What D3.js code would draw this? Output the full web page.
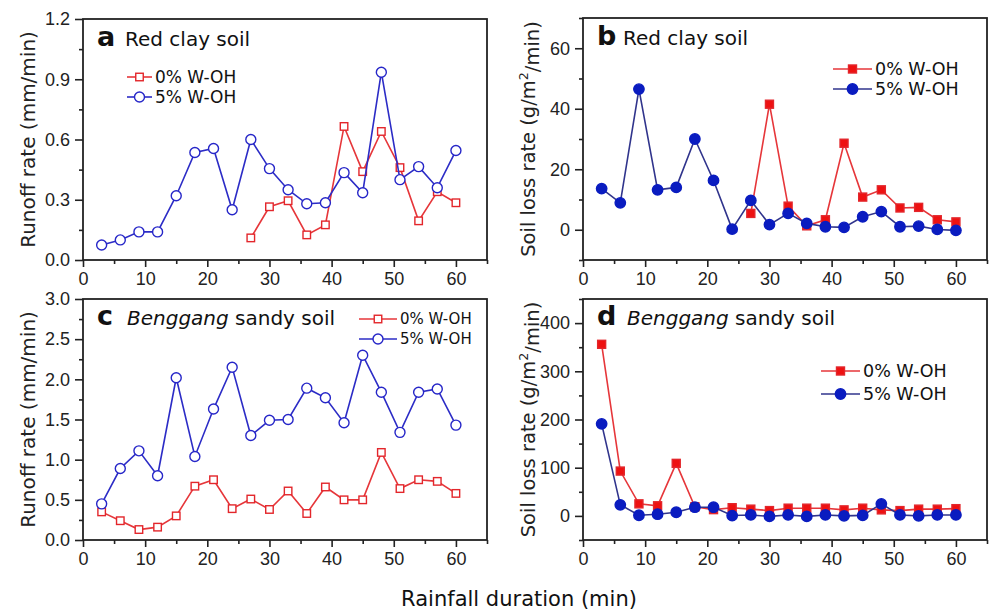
<!DOCTYPE html>
<html>
<head>
<meta charset="utf-8">
<script src="https://cdn.jsdelivr.net/npm/d3@7"></script>
<style>
    body { margin: 0; background: #fff; }
    svg { display: block; font-family: "DejaVu Sans", Arial, sans-serif; }
</style>
</head>
<body>
<svg id="chart" width="989" height="613"></svg>
<script>
// rainfall duration (min)
const minutes = [3, 6, 9, 12, 15, 18, 21, 24, 27, 30, 33, 36, 39, 42, 45, 48, 51, 54, 57, 60];

// a - red clay soil, runoff rate (mm/min)
const redClayRunoff0 = [null, null, null, null, null, null, null, null, 0.11, 0.265, 0.295, 0.125, 0.175, 0.665, 0.44, 0.64, 0.46, 0.195, 0.34, 0.285];
const redClayRunoff5 = [0.075, 0.10, 0.14, 0.14, 0.32, 0.535, 0.555, 0.25, 0.60, 0.455, 0.35, 0.28, 0.285, 0.435, 0.335, 0.935, 0.40, 0.465, 0.36, 0.545];

// b - red clay soil, soil loss rate (g/m2/min)
const redClayLoss0 = [null, null, null, null, null, null, null, null, 5.4, 41.5, 7.8, 1.3, 3.3, 28.6, 10.8, 13.2, 7.2, 7.4, 3.3, 2.6];
const redClayLoss5 = [13.6, 8.9, 46.5, 13.2, 14, 30, 16.3, 0.2, 9.7, 1.7, 5.4, 2.1, 1.0, 0.8, 4.3, 6.0, 1.0, 1.2, 0.1, -0.2];

// c - Benggang sandy soil, runoff rate (mm/min)
const benggangRunoff0 = [0.35, 0.24, 0.13, 0.16, 0.30, 0.67, 0.75, 0.39, 0.51, 0.38, 0.61, 0.33, 0.66, 0.50, 0.50, 1.09, 0.64, 0.75, 0.73, 0.58];
const benggangRunoff5 = [0.45, 0.89, 1.11, 0.80, 2.02, 1.04, 1.63, 2.15, 1.30, 1.49, 1.50, 1.89, 1.77, 1.46, 2.30, 1.84, 1.34, 1.84, 1.88, 1.43];

// d - Benggang sandy soil, soil loss rate (g/m2/min)
const benggangLoss0 = [356, 93, 25, 21, 109, 19, 13, 17, 14, 11, 16, 16, 16, 12.5, 16, 12.5, 11, 14, 14, 15];
const benggangLoss5 = [191, 23, 1.4, 3.5, 7.6, 18, 18, 0.7, 2, -1, 2, -1, 2, 0, 1, 25, 2, 0, 2, 2];

const seriesNames = ['0% W-OH', '5% W-OH'];
const xTicks = [0, 10, 20, 30, 40, 50, 60];

const svg = d3.select('#chart');
const frameColor = '#222';

function drawPanel(cfg) {
    const w = cfg.right - cfg.left;
    const h = cfg.bottom - cfg.top;
    const g = svg.append('g').attr('transform', `translate(${cfg.left},${cfg.top})`);

    const x = d3.scaleLinear().domain([0, 65]).range([0, w]);
    const y = d3.scaleLinear().domain(cfg.yDomain).range([h, 0]);

    // axes with major + minor ticks
    const xAxis = d3.axisBottom(x).tickValues(xTicks).tickSize(7).tickPadding(5).tickFormat(d3.format('d'));
    const xMinor = d3.axisBottom(x).tickValues(xTicks.map(d => d + 5)).tickSize(4).tickFormat('');
    const yAxis = d3.axisLeft(y).tickValues(cfg.yTicks).tickSize(8).tickPadding(5).tickFormat(cfg.yFormat);
    const yMinor = d3.axisLeft(y).tickValues(cfg.yMinor).tickSize(4).tickFormat('');

    [[xMinor, true], [xAxis, true], [yMinor, false], [yAxis, false]].forEach(([ax, isX]) => {
        const a = g.append('g')
            .attr('transform', isX ? `translate(0,${h})` : null)
            .call(ax);
        a.select('.domain').remove();
        a.selectAll('line').attr('stroke', frameColor).attr('stroke-width', 1.6);
        a.selectAll('text').attr('fill', '#222').style('font-size', '18px');
    });

    g.append('rect')
        .attr('width', w).attr('height', h)
        .attr('fill', 'none')
        .attr('stroke', frameColor)
        .attr('stroke-width', 1.8);

    // y axis title
    const yt = svg.append('text')
        .attr('transform', `translate(${cfg.left - 48},${cfg.top + h / 2}) rotate(-90)`)
        .attr('text-anchor', 'middle')
        .attr('fill', '#222')
        .style('font-size', cfg.yTitleSize + 'px');
    cfg.yTitle.forEach(p => {
        const t = yt.append('tspan').text(p.text);
        if (p.sup) t.style('font-size', '0.65em').attr('dy', '-0.55em');
        if (p.after) t.attr('dy', '0.55em');
    });

    // panel letter + title
    g.append('text')
        .attr('x', 14).attr('y', cfg.titleY)
        .attr('fill', '#111')
        .style('font-size', '27px').style('font-weight', 'bold')
        .text(cfg.letter);
    const tt = g.append('text')
        .attr('x', cfg.titleX).attr('y', cfg.titleY)
        .attr('fill', '#111')
        .style('font-size', '20px');
    cfg.title.forEach(p => {
        tt.append('tspan').text(p.text).style('font-style', p.italic ? 'italic' : null);
    });

    // series: 0% first, 5% on top
    const series = [
        {values: cfg.values0, color: '#e3262b', line: '#e6363a', fill: cfg.filled ? '#ee1111' : '#fff', shape: 'square'},
        {values: cfg.values5, color: cfg.filled ? '#0a1cc0' : '#2626c8', line: cfg.filled ? '#30348c' : '#2c2cc6', fill: cfg.filled ? '#0a1cc0' : '#fff', shape: 'circle'}
    ];

    const line = d3.line()
        .defined(d => d.v !== null)
        .x(d => x(d.t))
        .y(d => y(d.v));

    function marker(sel, s) {
        if (s.shape === 'square') {
            sel.append('rect')
                .attr('x', -cfg.sq / 2).attr('y', -cfg.sq / 2)
                .attr('width', cfg.sq).attr('height', cfg.sq)
                .attr('fill', s.fill).attr('stroke', s.color).attr('stroke-width', 1.4);
        } else {
            sel.append('circle')
                .attr('r', cfg.r)
                .attr('fill', s.fill).attr('stroke', s.color).attr('stroke-width', 1.4);
        }
    }

    series.forEach(s => {
        const pts = minutes.map((t, i) => ({t: t, v: s.values[i]}));
        g.append('path')
            .datum(pts)
            .attr('fill', 'none')
            .attr('stroke', s.line)
            .attr('stroke-width', 1.6)
            .attr('d', line);
        g.selectAll(null)
            .data(pts.filter(d => d.v !== null))
            .enter().append('g')
            .attr('transform', d => `translate(${x(d.t)},${y(d.v)})`)
            .each(function () { marker(d3.select(this), s); });
    });

    // legend
    const lg = g.append('g').attr('transform', `translate(${cfg.legend.x},${cfg.legend.y})`);
    series.forEach((s, i) => {
        const row = lg.append('g').attr('transform', `translate(0,${i * cfg.legend.gap})`);
        row.append('line')
            .attr('x1', 0).attr('x2', cfg.legend.len)
            .attr('stroke', s.line).attr('stroke-width', 1.6);
        const m = row.append('g').attr('transform', `translate(${cfg.legend.len / 2},0)`);
        marker(m, s);
        row.append('text')
            .attr('x', cfg.legend.len + 3)
            .attr('y', cfg.legend.size * 0.36)
            .attr('fill', '#111')
            .style('font-size', cfg.legend.size + 'px')
            .text(seriesNames[i]);
    });
}

drawPanel({
    left: 83, right: 487, top: 19, bottom: 260,
    yDomain: [0, 1.2], yTicks: [0, 0.3, 0.6, 0.9, 1.2], yMinor: [0.15, 0.45, 0.75, 1.05],
    yFormat: d3.format('.1f'),
    yTitle: [{text: 'Runoff rate (mm/min)'}], yTitleSize: 20,
    letter: 'a', title: [{text: 'Red clay soil'}], titleX: 42, titleY: 27,
    values0: redClayRunoff0, values5: redClayRunoff5, filled: false, sq: 7.5, r: 5,
    legend: {x: 44, y: 58, gap: 20, len: 25, size: 17}
});

drawPanel({
    left: 583, right: 987, top: 18, bottom: 260,
    yDomain: [-10, 70], yTicks: [0, 20, 40, 60], yMinor: [-10, 10, 30, 50, 70],
    yFormat: d3.format('d'),
    yTitle: [{text: 'Soil loss rate (g/m'}, {text: '2', sup: true}, {text: '/min)', after: true}], yTitleSize: 19.5,
    letter: 'b', title: [{text: 'Red clay soil'}], titleX: 40, titleY: 27,
    values0: redClayLoss0, values5: redClayLoss5, filled: true, sq: 8, r: 5.2,
    legend: {x: 250, y: 51, gap: 20, len: 39, size: 17.5}
});

drawPanel({
    left: 83, right: 487, top: 299, bottom: 540,
    yDomain: [0, 3], yTicks: [0, 0.5, 1, 1.5, 2, 2.5, 3], yMinor: [0.25, 0.75, 1.25, 1.75, 2.25, 2.75],
    yFormat: d3.format('.1f'),
    yTitle: [{text: 'Runoff rate (mm/min)'}], yTitleSize: 20,
    letter: 'c', title: [{text: 'Benggang', italic: true}, {text: ' sandy soil'}], titleX: 44, titleY: 26,
    values0: benggangRunoff0, values5: benggangRunoff5, filled: false, sq: 7.5, r: 5,
    legend: {x: 276, y: 20, gap: 20, len: 38, size: 15}
});

drawPanel({
    left: 583, right: 987, top: 299, bottom: 540,
    yDomain: [-50, 450], yTicks: [0, 100, 200, 300, 400], yMinor: [-50, 50, 150, 250, 350, 450],
    yFormat: d3.format('d'),
    yTitle: [{text: 'Soil loss rate (g/m'}, {text: '2', sup: true}, {text: '/min)', after: true}], yTitleSize: 19.5,
    letter: 'd', title: [{text: 'Benggang', italic: true}, {text: ' sandy soil'}], titleX: 44, titleY: 26,
    values0: benggangLoss0, values5: benggangLoss5, filled: true, sq: 8, r: 5.2,
    legend: {x: 238, y: 72, gap: 23, len: 39, size: 17.5}
});

// shared x axis title
svg.append('text')
    .attr('x', 519).attr('y', 606)
    .attr('text-anchor', 'middle')
    .attr('fill', '#111')
    .style('font-size', '21px')
    .text('Rainfall duration (min)');
</script>
</body>
</html>
